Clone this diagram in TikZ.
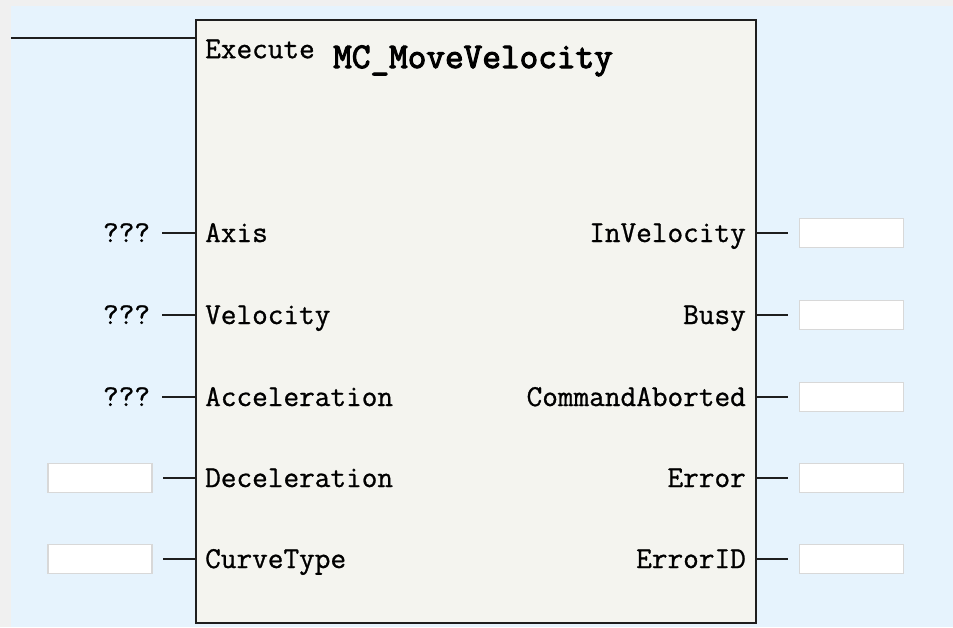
\documentclass[tikz,border=0pt]{standalone}
\usepackage{fontspec}
\newfontfamily\pinmono{Latin Modern Mono}[AutoFakeBold=0.9]
\newfontfamily\titlemono{Latin Modern Mono}[AutoFakeBold=3]
\usepackage{xcolor}
\usepackage{tikz}
\usetikzlibrary{positioning}
\definecolor{panelblue}{HTML}{E6F3FD}
\definecolor{framegray}{HTML}{F0F0F0}
\definecolor{blockfill}{HTML}{F4F4EF}
\definecolor{boxedge}{HTML}{D8D8D8}
\definecolor{wireblack}{HTML}{1E1E1E}
\newcommand{\pinfont}{\fontsize{30.4}{31}\selectfont\pinmono\bfseries}
\newcommand{\titlefont}{\fontsize{36.2}{37}\selectfont\titlemono\bfseries}
\tikzset{
  fblock/.style={
    rectangle, draw=wireblack, line width=2pt, fill=blockfill,
    minimum width=560pt, minimum height=603pt, inner sep=0pt
  },
  pinlabel/.style={
    inner sep=0pt, font=\pinfont, text=black,
    text height=18pt, text depth=0pt
  },
  unset/.style={pinlabel, outer xsep=12pt},
  valbox/.style={
    rectangle, draw=boxedge, line width=1.5pt, fill=white,
    minimum width=104pt, minimum height=29pt, inner sep=0pt,
    outer xsep=11pt
  },
  wire/.style={draw=wireblack, line width=2pt},
}

\begin{document}
\begin{tikzpicture}[x=1pt, y=-1pt]
  \fill[framegray] (0,0) rectangle (953,627);
  \fill[panelblue] (11,6) rectangle (953,627);
  \useasboundingbox (0,0) rectangle (953,627);
  \node[fblock] (fb) at (476,321.5) {};
  \node[font=\titlefont, inner sep=0pt, anchor=base west] (title) at (333,68) {MC\_MoveVelocity};
  \node[pinlabel, anchor=north west] (execute) at (205,40) {Execute};
  \coordinate (exin) at (11,38);
  \draw[wire] (exin) -- (exin -| fb.west);
  % inputs
  \node[pinlabel, anchor=west] (axis) at (205,233) {Axis};
  \node[pinlabel, anchor=west] (velo) at (205,315) {Velocity};
  \node[pinlabel, anchor=west] (accel) at (205,397) {Acceleration};
  \node[pinlabel, anchor=west] (decel) at (205,478) {Deceleration};
  \node[pinlabel, anchor=west] (curve) at (205,559) {CurveType};
  \node[unset, anchor=east] (axisval) at (162,233) {???};
  \node[unset, anchor=east] (veloval) at (162,315) {???};
  \node[unset, anchor=east] (accelval) at (162,397) {???};
  \node[valbox] (decelval) at (100,478) {};
  \node[valbox] (curveval) at (100,559) {};
  \draw[wire] (axisval.east) -- (axisval.east -| fb.west);
  \draw[wire] (veloval.east) -- (veloval.east -| fb.west);
  \draw[wire] (accelval.east) -- (accelval.east -| fb.west);
  \draw[wire] (decelval.east) -- (decelval.east -| fb.west);
  \draw[wire] (curveval.east) -- (curveval.east -| fb.west);
  % outputs
  \node[pinlabel, anchor=east] (invel) at (746,233) {InVelocity};
  \node[pinlabel, anchor=east] (busy) at (746,315) {Busy};
  \node[pinlabel, anchor=east] (aborted) at (746,397) {CommandAborted};
  \node[pinlabel, anchor=east] (error) at (746,478) {Error};
  \node[pinlabel, anchor=east] (errid) at (746,559) {ErrorID};
  \node[valbox, outer xsep=12pt] (invelval) at (851.5,233) {};
  \node[valbox, outer xsep=12pt] (busyval) at (851.5,315) {};
  \node[valbox, outer xsep=12pt] (abortedval) at (851.5,397) {};
  \node[valbox, outer xsep=12pt] (errorval) at (851.5,478) {};
  \node[valbox, outer xsep=12pt] (erridval) at (851.5,559) {};
  \draw[wire] (invelval.west -| fb.east) -- (invelval.west);
  \draw[wire] (busyval.west -| fb.east) -- (busyval.west);
  \draw[wire] (abortedval.west -| fb.east) -- (abortedval.west);
  \draw[wire] (errorval.west -| fb.east) -- (errorval.west);
  \draw[wire] (erridval.west -| fb.east) -- (erridval.west);
\end{tikzpicture}
\end{document}
